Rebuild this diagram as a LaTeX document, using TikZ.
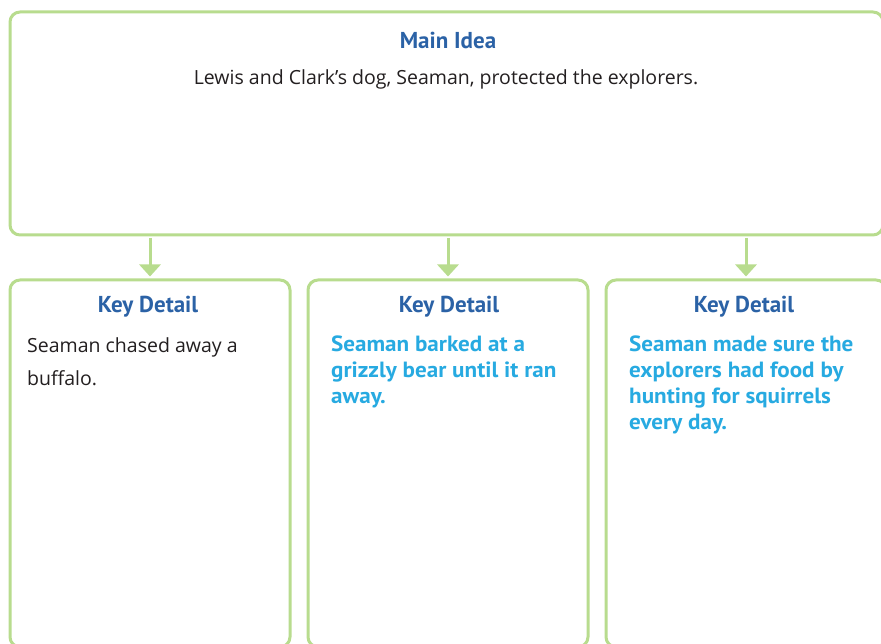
\documentclass[tikz,border=0pt]{standalone}
\usepackage{fontspec}
\setmainfont{Open Sans}
\newfontfamily\titlefont{PT Sans}
\newfontfamily\bluefont[FakeStretch=1.05]{PT Sans}
\usetikzlibrary{arrows.meta}
\definecolor{boxgreen}{HTML}{B8DC8E}
\definecolor{titleblue}{HTML}{2B62A6}
\definecolor{bodycyan}{HTML}{27AAE1}
\definecolor{inkblack}{HTML}{231F20}
\tikzset{
  panel/.style={draw=boxgreen, line width=3pt, rounded corners=10pt, fill=white, inner sep=0pt},
  flowarrow/.style={draw=boxgreen, line width=3pt, -{Triangle[width=21pt,length=12pt]}},
  heading/.style={font=\titlefont\bfseries\fontsize{23}{27}\selectfont, text=titleblue, anchor=base, inner sep=0pt},
  handtext/.style={font=\fontsize{19.5}{33}\selectfont, text=inkblack, align=left, anchor=base west, inner sep=0pt},
  bluetext/.style={font=\bluefont\bfseries\fontsize{22}{26}\selectfont, text=bodycyan, align=left, anchor=base west, inner sep=0pt}
}
\begin{document}
\begin{tikzpicture}[x=1pt,y=-1pt]
\useasboundingbox (0,0) rectangle (881,644);
\node[panel, minimum width=873pt, minimum height=223pt] (main) at (446.5,123.5) {};
\node[panel, minimum width=280pt, minimum height=367pt] (k1) at (150,463.5) {};
\node[panel, minimum width=280pt, minimum height=367pt] (k2) at (448,463.5) {};
\node[panel, minimum width=280pt, minimum height=367pt] (k3) at (746,463.5) {};
\draw[flowarrow] ([yshift=-1.5pt]main.south -| k1.north) -- ([yshift=2pt]k1.north);
\draw[flowarrow] ([yshift=-1.5pt]main.south -| k2.north) -- ([yshift=2pt]k2.north);
\draw[flowarrow] ([yshift=-1.5pt]main.south -| k3.north) -- ([yshift=2pt]k3.north);
\node[heading] (mt) at (448,49) {Main Idea};
\node[font=\fontsize{19.5}{22}\selectfont, text=inkblack, anchor=base, inner sep=0pt] (mtx) at (446,85) {Lewis and Clark’s dog, Seaman, protected the explorers.};
\node[heading] (h1) at (148,313) {Key Detail};
\node[heading] (h2) at (449,313) {Key Detail};
\node[heading] (h3) at (744,313) {Key Detail};
\node[handtext] (t1) at (27,385) {Seaman chased away a\\buffalo.};
\node[bluetext] (t2) at (331,403) {Seaman barked at a\\grizzly bear until it ran\\away.};
\node[bluetext] (t3) at (629,429) {Seaman made sure the\\explorers had food by\\hunting for squirrels\\every day.};
\end{tikzpicture}
\end{document}
